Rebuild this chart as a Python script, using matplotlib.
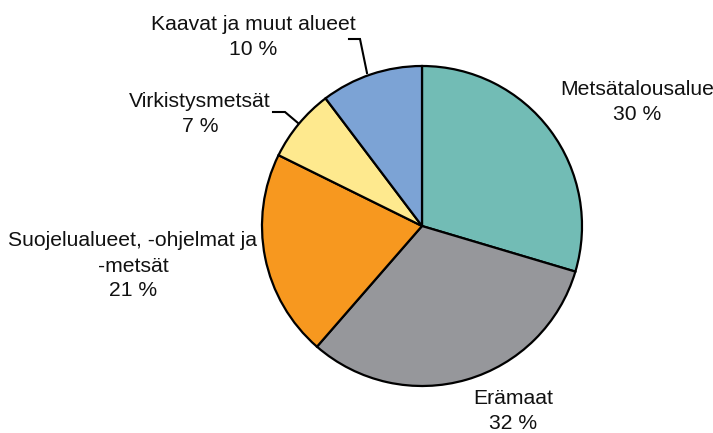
import matplotlib
matplotlib.use("Agg")
import matplotlib.pyplot as plt

categories = ["Metsätalousalue", "Erämaat", "Suojelualueet, -ohjelmat ja\n-metsät",
              "Virkistysmetsät", "Kaavat ja muut alueet"]
values = [29.6, 31.8, 20.9, 7.4, 10.3]
colors = ["#72BCB5", "#96979B", "#F7981F", "#FEE98E", "#7CA3D5"]

W, H = 713, 433
fig = plt.figure(figsize=(W / 100, H / 100), dpi=100)
ax = fig.add_axes([0, 0, 1, 1])

cx, cy, r = 422, H - 226, 160
ax.pie(values, colors=colors, startangle=90, counterclock=False,
       center=(cx, cy), radius=r, frame=True,
       wedgeprops=dict(edgecolor="black", linewidth=1.6))
ax.set_xlim(0, W)
ax.set_ylim(0, H)
ax.set_aspect("equal")
ax.axis("off")

font = dict(family="Liberation Sans", fontsize=15.2, color="#111111",
            ha="center", va="center", linespacing=1.4)

label_pos = [(637, 102), (513, 411), (133, 266), (200, 114), (253, 37)]
for cat, v, (x, y) in zip(categories, values, label_pos):
    ax.text(x, H - y, f"{cat}\n{round(v)} %", **font)

# leader lines
ax.plot([367, 360, 349], [H - 73, H - 39, H - 39], color="black", lw=1.5,
        solid_joinstyle="miter")
ax.plot([298, 285, 273], [H - 123, H - 112, H - 112], color="black", lw=1.5,
        solid_joinstyle="miter")

fig.savefig("out.png", dpi=100)
